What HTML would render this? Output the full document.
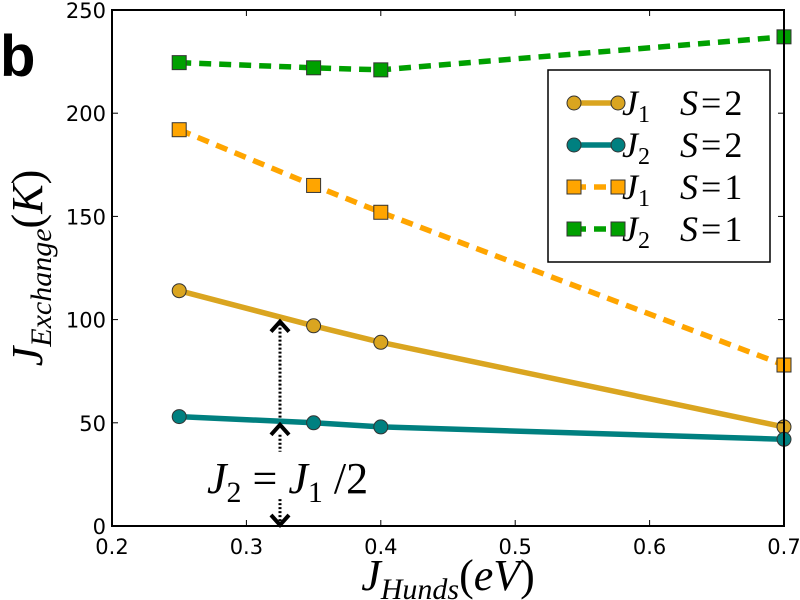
<!DOCTYPE html>
<html><head><meta charset="utf-8"><style>
body{margin:0;background:#fff;}
svg{display:block;font-family:"DejaVu Sans","Liberation Sans",sans-serif;}
.m{font-family:"Liberation Serif","DejaVu Serif",serif;font-style:italic;}
</style></head><body>
<svg id="c" width="800" height="600" viewBox="0 0 800 600">
<rect x="0" y="0" width="800" height="600" fill="#fff"/>
<text x="0" y="76" font-size="58" font-weight="bold" font-family="Liberation Sans, sans-serif">b</text>
<g id="plot"></g>
</svg>
<script>
const xVals=[0.25,0.35,0.4,0.7];
const j1S2=[114,97,89,48];
const j2S2=[53,50,48,42];
const j1S1=[192,165,152,78];
const j2S1=[224.5,222,221,237];
const xTicks=[0.2,0.3,0.4,0.5,0.6,0.7];
const yTicks=[0,50,100,150,200,250];
const X0=112,X1=784,Y0=526,Y1=10;
const sx=v=>X0+(v-0.2)/0.5*(X1-X0);
const sy=v=>Y0-v/250*(Y0-Y1);
const NS='http://www.w3.org/2000/svg';
const g=document.getElementById('plot');
function mk(t,a,p){const e=document.createElementNS(NS,t);for(const k in a)e.setAttribute(k,a[k]);(p||g).appendChild(e);return e;}
function series(vals,color,dash,marker,name){
  const grp=mk('g',{});
  
  
  const pts=vals.map((v,i)=>sx(xVals[i])+','+sy(v)).join(' ');
  const l=mk('polyline',{points:pts,fill:'none',stroke:color,'stroke-width':5.5,'stroke-dasharray':dash||'none'},grp);
  
  
  vals.forEach((v,i)=>{
    let m;
    if(marker==='o')m=mk('circle',{cx:sx(xVals[i]),cy:sy(v),r:7,fill:color,stroke:'#333','stroke-width':1},grp);
    else m=mk('rect',{x:sx(xVals[i])-7,y:sy(v)-7,width:14,height:14,fill:color,stroke:'#333','stroke-width':1},grp);
    
    
  });
}
series(j2S1,'#00a000','12 8','s','j2-s1-series');
series(j1S1,'#ffa500','12 8','s','j1-s1-series');
series(j1S2,'#daa520',null,'o','j1-s2-series');
series(j2S2,'#008080',null,'o','j2-s2-series');
// annotation arrows
const ax=sx(0.325);
const ann=mk('g',{});


mk('line',{x1:ax,y1:sy(100)+4,x2:ax,y2:sy(50)-4,stroke:'#000','stroke-width':3,'stroke-dasharray':'2 2'},ann);
mk('polyline',{points:(ax-9)+','+(sy(100)+12)+' '+ax+','+(sy(100)+2)+' '+(ax+9)+','+(sy(100)+12),fill:'none',stroke:'#000','stroke-width':4},ann);
mk('polyline',{points:(ax-9)+','+(sy(50)+12)+' '+ax+','+(sy(50)+2)+' '+(ax+9)+','+(sy(50)+12),fill:'none',stroke:'#000','stroke-width':4},ann);
mk('line',{x1:ax,y1:sy(50)+12,x2:ax,y2:sy(36),stroke:'#000','stroke-width':3,'stroke-dasharray':'2 2'},ann);
mk('line',{x1:ax,y1:sy(13),x2:ax,y2:sy(2),stroke:'#000','stroke-width':3,'stroke-dasharray':'2 2'},ann);
mk('polyline',{points:(ax-9)+','+(sy(0)-11)+' '+ax+','+(sy(0)-1)+' '+(ax+9)+','+(sy(0)-11),fill:'none',stroke:'#000','stroke-width':4},ann);
const at=mk('text',{x:207,y:493,'font-size':44,class:'m'},ann);
at.innerHTML='J<tspan font-size="30" dy="9" font-style="normal">2</tspan><tspan dy="-9" font-style="normal"> = </tspan>J<tspan font-size="30" dy="9" font-style="normal">1</tspan><tspan dy="-9" font-style="normal"> /2</tspan>';


// frame
const fr=mk('rect',{x:X0,y:Y1,width:X1-X0,height:Y0-Y1,fill:'none',stroke:'#000','stroke-width':2});


xTicks.forEach(t=>{
  const x=sx(t);
  mk('line',{x1:x,y1:Y0,x2:x,y2:Y0-6,stroke:'#000','stroke-width':1});
  mk('line',{x1:x,y1:Y1,x2:x,y2:Y1+6,stroke:'#000','stroke-width':1});
  const tx=mk('text',{x:x,y:Y0+28,'font-size':21,'text-anchor':'middle'});
  tx.textContent=t.toFixed(1);
  
  
});
yTicks.forEach(t=>{
  const y=sy(t);
  mk('line',{x1:X0,y1:y,x2:X0+6,y2:y,stroke:'#000','stroke-width':1});
  mk('line',{x1:X1,y1:y,x2:X1-6,y2:y,stroke:'#000','stroke-width':1});
  const tx=mk('text',{x:X0-6,y:y+8,'font-size':21,'text-anchor':'end'});
  tx.textContent=t;
  
  
});
const xt=mk('text',{x:448,y:590,'font-size':44,'text-anchor':'middle',class:'m'});
xt.innerHTML='J<tspan font-size="30" dy="9">Hunds</tspan><tspan dy="-9" font-style="normal">(</tspan>eV<tspan font-style="normal">)</tspan>';


const yt=mk('text',{x:0,y:0,'font-size':44,'text-anchor':'middle',class:'m',transform:'translate(42,268) rotate(-90)'});
yt.innerHTML='J<tspan font-size="30" dy="9">Exchange</tspan><tspan dy="-9" font-style="normal">(</tspan>K<tspan font-style="normal">)</tspan>';


// legend
const lg=mk('g',{});


mk('rect',{x:548,y:70,width:222,height:192,fill:'#fff',stroke:'#000','stroke-width':1.5},lg);
const ents=[['#daa520',null,'o','1'],['#008080',null,'o','2'],['#ffa500','12 8','s','1'],['#00a000','12 8','s','2']];
const svals=['2','2','1','1'];
ents.forEach((e,i)=>{
  const y=103+i*42;
  const eg=mk('g',{},lg);
  
  
  mk('line',{x1:574,y1:y,x2:618,y2:y,stroke:e[0],'stroke-width':5.5,'stroke-dasharray':e[1]||'none'},eg);
  [574,618].forEach(x=>{
    if(e[2]==='o')mk('circle',{cx:x,cy:y,r:7,fill:e[0],stroke:'#333','stroke-width':1},eg);
    else mk('rect',{x:x-7,y:y-7,width:14,height:14,fill:e[0],stroke:'#333','stroke-width':1},eg);
  });
  const t=mk('text',{x:622,y:y+12,'font-size':36,class:'m'},eg);
  t.innerHTML='J<tspan font-size="24" dy="7" font-style="normal">'+e[3]+'</tspan><tspan dy="-7" x="680">S</tspan><tspan font-style="normal" dx="3">=</tspan><tspan font-style="normal" dx="3">'+svals[i]+'</tspan>';
});
</script>
</body></html>
